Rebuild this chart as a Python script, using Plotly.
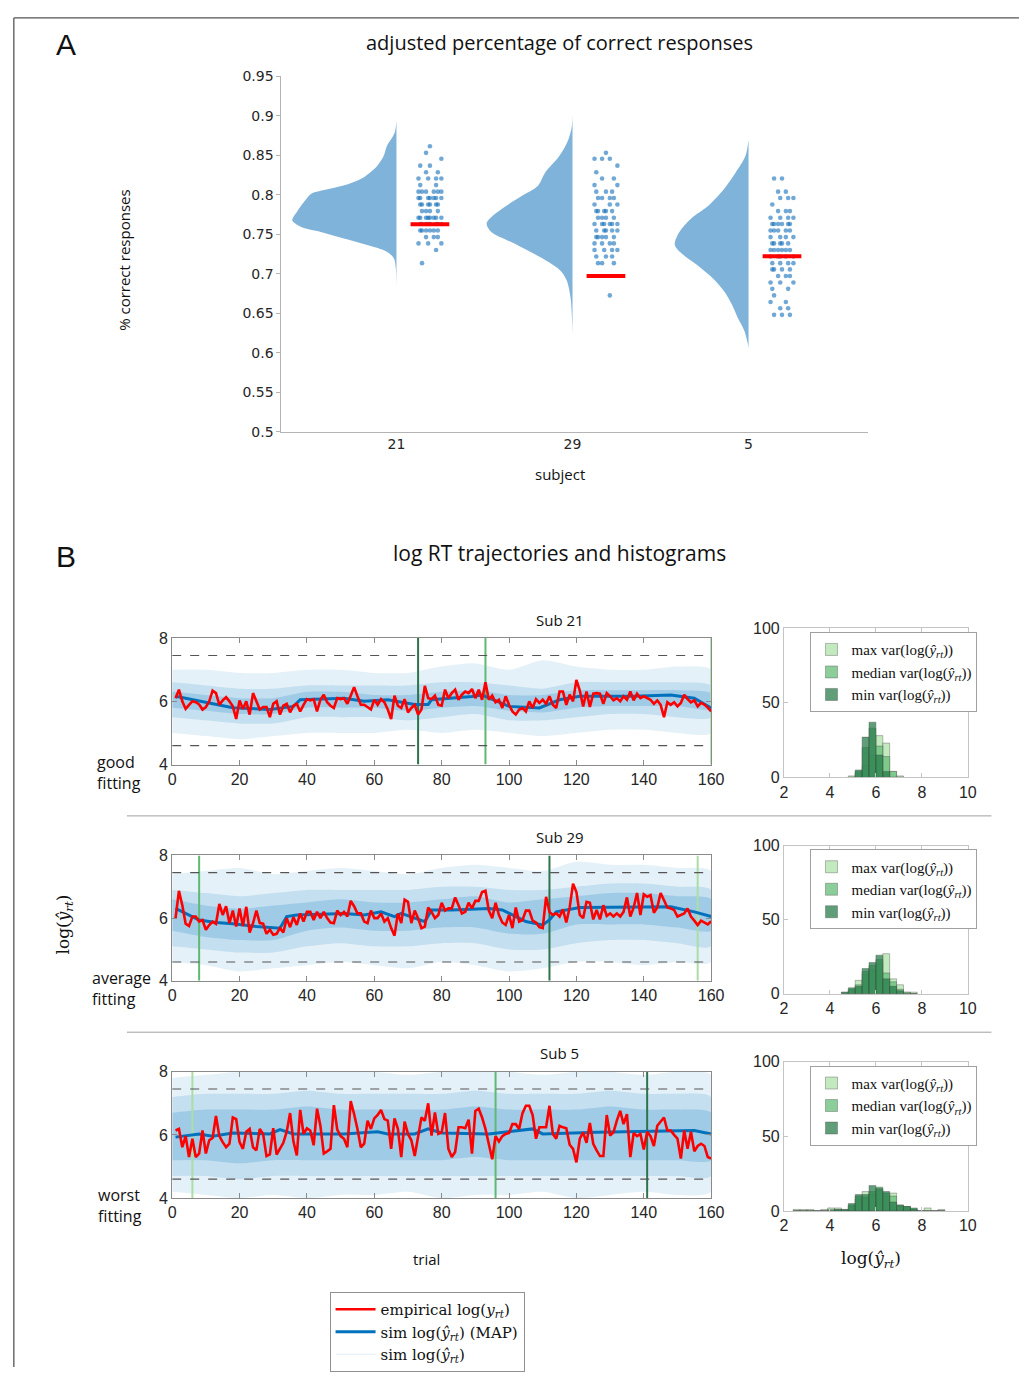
import numpy as np
import plotly.graph_objects as go

W, H = 1032, 1376
def px(x): return x / W
def py(y): return 1 - y / H

# ---------------- Panel A data ----------------
subjects = ["21", "29", "5"]
mean_correct = [0.7625, 0.697, 0.7221]

violin21_y = [0.8946, 0.8779, 0.8613, 0.8488, 0.8363, 0.8217, 0.8133, 0.8071, 0.8009, 0.7925, 0.7863,
              0.7779, 0.7675, 0.7591, 0.7529, 0.7446, 0.7363, 0.7279, 0.7196, 0.7071, 0.6829]
violin21_w = [0, 0.011, 0.055, 0.073, 0.11, 0.188, 0.276, 0.386, 0.486, 0.519, 0.541,
              0.567, 0.592, 0.541, 0.43, 0.298, 0.166, 0.055, 0.015, 0.004, 0]
violin29_y = [0.9029, 0.8863, 0.8696, 0.8488, 0.8279, 0.8113, 0.7988, 0.7863, 0.7738, 0.7633, 0.7529,
              0.7404, 0.7279, 0.7154, 0.7029, 0.6904, 0.6696, 0.6488, 0.6238]
violin29_w = [0, 0.004, 0.024, 0.075, 0.155, 0.196, 0.285, 0.373, 0.45, 0.488, 0.461,
              0.351, 0.241, 0.141, 0.064, 0.031, 0.011, 0.004, 0]
violin5_y = [0.8696, 0.8488, 0.8279, 0.8071, 0.7863, 0.7696, 0.7529, 0.7363, 0.7238, 0.7113, 0.6946,
             0.6779, 0.6613, 0.6446, 0.6279, 0.6113, 0.605]
violin5_w = [0, 0.018, 0.073, 0.139, 0.227, 0.327, 0.393, 0.419, 0.371, 0.294, 0.205,
             0.139, 0.095, 0.062, 0.024, 0.004, 0]

dots21_y = [0.8613, 0.8529, 0.8454, 0.8367, 0.8283, 0.8204, 0.8121, 0.8038, 0.7958, 0.7875, 0.7792,
            0.7708, 0.7629, 0.7546, 0.7463, 0.7383, 0.7300, 0.7133]
dots21_n = [1, 1, 1, 2, 2, 4, 2, 6, 7, 6, 4, 8, 8, 6, 3, 3, 1, 1]
dots29_y = [0.8529, 0.8454, 0.8367, 0.8283, 0.8204, 0.8121, 0.8038, 0.7958, 0.7875, 0.7792, 0.7708,
            0.7629, 0.7546, 0.7463, 0.7383, 0.7300, 0.7217, 0.7133, 0.6725]
dots29_n = [1, 3, 1, 1, 2, 2, 3, 4, 3, 5, 4, 6, 5, 5, 4, 4, 3, 3, 1]
dots5_y = [0.8204, 0.8038, 0.7958, 0.7875, 0.7792, 0.7708, 0.7629, 0.7546, 0.7463, 0.7383, 0.7300,
           0.7217, 0.7133, 0.7054, 0.6971, 0.6888, 0.6808, 0.6725, 0.6642, 0.6563, 0.6479]
dots5_n = [2, 2, 3, 1, 3, 4, 6, 5, 4, 5, 6, 5, 4, 4, 3, 3, 2, 1, 2, 2, 3]

# ---------------- Panel B data ----------------
emp21 = [6.1, 6.37, 6.0, 5.76, 5.89, 6.0, 5.97, 5.9, 5.74, 5.82,
         6.0, 6.34, 6.26, 5.89, 6.03, 6.13, 6.0, 5.84, 5.44, 6.03,
         5.76, 6.0, 5.58, 6.26, 6.0, 5.74, 5.82, 5.82, 5.5, 5.92,
         6.0, 5.58, 5.86, 5.92, 5.65, 5.86, 5.92, 5.68, 5.89, 6.07,
         6.03, 6.07, 5.68, 6.05, 6.21, 5.97, 5.86, 5.79, 6.1, 6.07,
         6.1, 5.92, 6.18, 6.45, 6.16, 5.89, 5.89, 5.82, 5.74, 6.05,
         5.89, 6.07, 5.97, 5.74, 5.44, 6.18, 5.86, 5.79, 6.07, 5.65,
         5.79, 5.89, 5.58, 5.74, 6.49, 6.1, 6.07, 6.18, 5.89, 5.86,
         6.37, 6.1, 6.26, 6.37, 6.05, 6.21, 6.31, 6.26, 6.39, 6.1,
         6.37, 6.05, 6.6, 6.05, 6.18, 5.97, 6.05, 5.79, 6.16, 5.89,
         5.68, 5.58, 5.74, 5.79, 5.68, 6.0, 5.79, 6.07, 5.95, 6.05,
         5.92, 6.16, 5.89, 5.79, 6.31, 6.31, 5.89, 6.21, 6.0, 6.68,
         6.34, 5.84, 6.31, 5.82, 6.24, 6.26, 6.24, 5.92, 6.26, 6.16,
         6.03, 6.1, 6.0, 6.16, 6.05, 6.31, 6.03, 6.24, 6.1, 6.16,
         6.1, 6.05, 5.92, 6.03, 5.89, 5.5, 5.97, 5.89, 5.97, 5.84,
         5.95, 6.21, 6.07, 5.97, 6.03, 5.84, 5.95, 5.9, 5.8, 5.68]
emp29 = [6.0, 6.87, 6.41, 5.82, 5.75, 6.05, 6.05, 5.89, 5.94, 5.63,
         5.78, 5.89, 5.82, 6.45, 6.1, 6.38, 5.84, 6.24, 5.73, 6.31,
         5.75, 6.36, 5.54, 5.84, 6.24, 5.84, 5.82, 5.5, 5.63, 5.47,
         5.5, 5.68, 5.54, 6.0, 5.71, 6.03, 5.78, 6.15, 5.89, 6.2,
         6.2, 5.94, 6.2, 6.0, 6.2, 6.0, 5.86, 5.84, 6.24, 6.1,
         6.2, 6.05, 6.55, 6.38, 6.15, 6.15, 5.89, 5.84, 6.24, 6.0,
         6.0, 6.15, 5.89, 6.0, 5.68, 5.44, 6.15, 5.84, 6.59, 6.52,
         5.84, 6.24, 6.0, 5.68, 5.73, 6.34, 6.2, 6.0, 6.1, 6.49,
         6.24, 6.31, 6.31, 6.66, 6.41, 6.15, 6.2, 6.49, 6.31, 6.55,
         6.55, 6.83, 6.87, 6.24, 6.0, 6.49, 6.1, 5.86, 5.78, 6.1,
         5.68, 6.34, 5.89, 5.94, 6.24, 6.24, 5.92, 5.86, 5.71, 5.68,
         6.68, 6.2, 6.1, 6.15, 6.05, 6.28, 5.86, 6.34, 7.1, 6.83,
         6.1, 6.0, 6.52, 6.49, 5.96, 6.26, 5.96, 6.41, 6.07, 6.15,
         6.05, 6.15, 6.05, 6.2, 6.66, 6.05, 6.34, 6.8, 6.1, 6.76,
         6.68, 6.73, 6.17, 6.34, 6.8, 6.55, 6.34, 6.31, 6.26, 6.05,
         6.1, 6.15, 6.31, 6.05, 5.92, 5.78, 5.92, 5.85, 5.8, 5.9]
emp5 = [6.14, 6.19, 5.61, 5.96, 5.3, 5.88, 5.3, 5.41, 6.14, 5.41,
        5.83, 5.9, 6.6, 5.96, 5.77, 5.61, 5.72, 6.55, 6.5, 5.77,
        5.56, 6.1, 6.19, 5.61, 5.51, 6.19, 6.03, 5.33, 5.38, 6.21,
        5.38, 5.56, 5.75, 6.1, 6.69, 5.79, 5.35, 6.79, 6.03, 6.21,
        6.14, 5.67, 6.83, 6.29, 5.41, 5.48, 5.56, 6.94, 6.17, 5.96,
        5.88, 5.61, 7.07, 6.66, 6.19, 5.61, 5.72, 6.45, 6.19, 6.52,
        6.63, 6.79, 6.5, 6.45, 5.56, 6.52, 6.19, 5.3, 6.42, 6.03,
        5.83, 5.33, 5.88, 6.55, 6.45, 7.0, 5.98, 6.71, 6.03, 6.08,
        6.69, 5.56, 5.3, 5.46, 6.24, 6.24, 6.21, 6.48, 5.41, 6.76,
        6.83, 6.55, 6.19, 5.72, 5.23, 5.96, 5.79, 5.96, 6.03, 6.06,
        6.34, 6.34, 6.19, 6.69, 6.92, 6.92, 6.63, 5.88, 6.24, 6.24,
        6.24, 6.92, 6.03, 5.88, 6.29, 6.24, 6.21, 5.69, 5.56, 5.13,
        5.88, 6.08, 5.75, 6.38, 5.72, 5.51, 5.33, 5.33, 6.63, 5.98,
        6.08, 6.45, 6.76, 6.34, 6.66, 5.3, 6.06, 5.96, 6.03, 5.54,
        6.1, 5.96, 5.65, 6.29, 6.42, 6.55, 6.14, 6.14, 6.0, 5.88,
        5.25, 6.14, 5.56, 6.1, 5.48, 5.65, 5.72, 5.65, 5.3, 5.25]

map21_t = [1, 10, 18, 29, 36, 38, 51, 57, 64, 72, 76, 77, 89, 92, 100, 109, 115, 121, 137, 148, 155, 160]
map21_v = [6.16, 5.97, 5.8, 5.74, 5.84, 6.05, 6.1, 6.0, 6.05, 5.9, 5.9, 6.05, 6.15, 6.2, 5.84, 5.79, 6.05, 6.16, 6.16, 6.2, 6.1, 5.79]
map29_t = [1, 8, 13, 18, 25, 32, 34, 37, 51, 57, 62, 66, 68, 75, 77, 83, 94, 98, 105, 110, 112, 114, 121, 137, 148, 155, 160]
map29_v = [6.31, 5.94, 5.86, 5.82, 5.73, 5.68, 6.05, 6.1, 6.15, 6.1, 6.2, 6.05, 6.15, 5.89, 6.26, 6.26, 6.31, 6.26, 5.89, 5.78, 5.94, 6.2, 6.34, 6.36, 6.36, 6.2, 6.05]
map5_t = [1, 5, 8, 12, 18, 29, 32, 36, 51, 61, 64, 72, 76, 80, 94, 107, 110, 126, 137, 155, 160]
map5_v = [5.93, 5.98, 6.03, 5.96, 6.06, 6.03, 6.17, 6.03, 6.03, 6.1, 6.03, 6.03, 6.19, 6.06, 6.03, 6.19, 6.03, 6.08, 6.1, 6.14, 6.03]

band_t = [0, 10, 20, 30, 40, 50, 60, 70, 80, 90, 100, 110, 120, 130, 140, 150, 160]
sim21_outer_hi = [7.0, 7.0, 6.9, 6.9, 7.0, 7.0, 6.9, 6.9, 7.1, 7.2, 7.0, 7.3, 7.1, 7.0, 7.0, 7.1, 7.0]
sim21_outer_lo = [5.0, 4.9, 4.8, 4.9, 5.0, 5.0, 5.0, 5.1, 5.0, 5.1, 5.0, 4.9, 5.0, 5.1, 5.1, 5.0, 5.0]
sim21_mid_hi = [6.6, 6.5, 6.4, 6.4, 6.5, 6.5, 6.5, 6.5, 6.6, 6.6, 6.5, 6.4, 6.6, 6.6, 6.6, 6.6, 6.5]
sim21_mid_lo = [5.5, 5.4, 5.3, 5.3, 5.5, 5.5, 5.5, 5.4, 5.5, 5.6, 5.4, 5.4, 5.5, 5.6, 5.6, 5.5, 5.5]
sim21_in_hi = [6.3, 6.2, 6.1, 6.1, 6.3, 6.3, 6.2, 6.2, 6.3, 6.35, 6.2, 6.2, 6.35, 6.35, 6.35, 6.35, 6.25]
sim21_in_lo = [5.8, 5.7, 5.6, 5.6, 5.8, 5.8, 5.8, 5.7, 5.8, 5.85, 5.7, 5.65, 5.8, 5.85, 5.85, 5.85, 5.75]

sim29_outer_hi = [7.4, 7.5, 7.6, 7.4, 7.5, 7.6, 7.5, 7.4, 7.6, 7.7, 7.6, 7.5, 7.8, 7.7, 7.7, 7.6, 7.5]
sim29_outer_lo = [4.6, 4.5, 4.3, 4.4, 4.5, 4.6, 4.5, 4.4, 4.6, 4.5, 4.3, 4.4, 4.6, 4.6, 4.5, 4.6, 4.6]
sim29_mid_hi = [6.9, 6.8, 6.7, 6.8, 6.9, 6.9, 6.9, 6.9, 7.0, 7.0, 6.9, 6.9, 7.0, 7.1, 7.1, 7.0, 6.9]
sim29_mid_lo = [5.1, 5.0, 4.9, 4.9, 5.1, 5.2, 5.1, 5.1, 5.2, 5.2, 5.0, 5.0, 5.2, 5.3, 5.3, 5.2, 5.1]
sim29_in_hi = [6.6, 6.4, 6.3, 6.4, 6.5, 6.6, 6.5, 6.5, 6.6, 6.7, 6.5, 6.6, 6.7, 6.8, 6.8, 6.7, 6.6]
sim29_in_lo = [5.6, 5.4, 5.3, 5.3, 5.6, 5.7, 5.6, 5.6, 5.7, 5.7, 5.5, 5.5, 5.8, 5.8, 5.8, 5.7, 5.6]

sim5_outer_hi = [7.8, 7.9, 8.0, 8.0, 8.0, 8.0, 8.0, 7.9, 8.0, 8.0, 8.0, 7.9, 8.0, 8.0, 7.9, 8.0, 7.9]
sim5_outer_lo = [4.2, 4.1, 4.0, 4.1, 4.0, 4.1, 4.1, 4.2, 4.0, 4.1, 4.1, 4.2, 4.0, 4.1, 4.2, 4.1, 4.2]
sim5_mid_hi = [7.2, 7.3, 7.3, 7.3, 7.4, 7.3, 7.3, 7.3, 7.3, 7.4, 7.3, 7.3, 7.3, 7.4, 7.3, 7.3, 7.2]
sim5_mid_lo = [4.7, 4.7, 4.6, 4.7, 4.7, 4.7, 4.7, 4.7, 4.7, 4.7, 4.7, 4.7, 4.7, 4.7, 4.7, 4.7, 4.7]
sim5_in_hi = [6.7, 6.8, 6.8, 6.8, 6.9, 6.8, 6.8, 6.8, 6.8, 6.9, 6.8, 6.8, 6.8, 6.9, 6.8, 6.8, 6.7]
sim5_in_lo = [5.2, 5.2, 5.1, 5.2, 5.2, 5.2, 5.2, 5.2, 5.2, 5.3, 5.2, 5.2, 5.2, 5.2, 5.2, 5.2, 5.2]

ref_hi, ref_lo = 7.45, 4.6
# trial of max / median / min variance trajectories
vline21 = {"max": 160, "median": 93, "min": 73}
vline29 = {"max": 156, "median": 8, "min": 112}
vline5 = {"max": 6, "median": 96, "min": 141}

bin_w = 0.3
hist21_start = 4.8
hist21_max = [1, 3, 8, 15, 28, 23, 4, 1]
hist21_median = [0, 4, 20, 33, 21, 14, 4, 0]
hist21_min = [0, 5, 27, 37, 15, 4, 0, 0]
hist29_start = 4.5
hist29_max = [0, 2, 9, 13, 16, 20, 27, 10, 6, 1, 1]
hist29_median = [1, 3, 6, 15, 19, 23, 14, 8, 3, 1, 0]
hist29_min = [1, 4, 5, 17, 21, 26, 10, 5, 2, 0, 0]
hist5_start = 2.4
hist5_max = [1, 1, 1, 0, 1, 2, 2, 0, 3, 8, 13, 11, 14, 10, 12, 4, 3, 1, 0, 2, 0, 1]
hist5_median = [0, 0, 0, 0, 0, 1, 1, 1, 4, 10, 9, 13, 16, 12, 10, 3, 3, 1, 0, 0, 0, 0]
hist5_min = [0, 0, 0, 0, 0, 0, 1, 1, 5, 11, 11, 17, 15, 13, 6, 4, 3, 2, 0, 0, 0, 0]

# ---------------- styling ----------------
SANS = "Open Sans"
SERIF = "DejaVu Serif"
SERIF2 = "Liberation Serif"
TICKC = "#262626"
VIOLIN = "rgb(128,179,217)"
DOT = "rgba(20,110,185,0.6)"
BLUE = "rgb(0,114,189)"
RED = "rgb(255,0,0)"
GREEN = {"max": "rgb(170,222,165)", "median": "rgb(95,185,115)", "min": "rgb(45,115,75)"}
HISTC = {"max": "rgba(175,225,170,0.75)", "median": "rgba(100,190,120,0.75)", "min": "rgba(35,120,70,0.72)"}
YHAT = "log(<i>ŷ</i><sub><i>rt</i></sub>)"

fig = go.Figure()

# ---------------- Panel A ----------------
violins = [(violin21_y, violin21_w), (violin29_y, violin29_w), (violin5_y, violin5_w)]
dots = [(dots21_y, dots21_n), (dots29_y, dots29_n), (dots5_y, dots5_n)]
jit = [0.0, -0.045, 0.045, -0.022, 0.022, -0.065, 0.065, -0.01, 0.035, -0.055]
for i, ((vy, vw), (dy, dn)) in enumerate(zip(violins, dots)):
    c = i + 1
    xs = [c - w for w in vw]
    fig.add_trace(go.Scatter(x=xs, y=list(vy), fill="toself", fillcolor=VIOLIN, mode="lines",
                             line=dict(width=0, color=VIOLIN, shape="spline", smoothing=0.9),
                             showlegend=False, hoverinfo="skip", xaxis="x", yaxis="y"))
    dx, dyy = [], []
    for r, (yv, n) in enumerate(zip(dy, dn)):
        for k in range(n):
            dx.append(c + 0.19 + jit[(k + 3 * r) % len(jit)])
            dyy.append(yv)
    fig.add_trace(go.Scatter(x=dx, y=dyy, mode="markers", marker=dict(size=4.6, color=DOT),
                             showlegend=False, xaxis="x", yaxis="y"))
    fig.add_trace(go.Scatter(x=[c + 0.08, c + 0.30], y=[mean_correct[i]] * 2, mode="lines",
                             line=dict(color=RED, width=4), showlegend=False, xaxis="x", yaxis="y"))

# ---------------- Panel B ----------------
rows = [
    dict(emp=emp21, mt=map21_t, mv=map21_v,
         bands=[(sim21_outer_hi, sim21_outer_lo), (sim21_mid_hi, sim21_mid_lo), (sim21_in_hi, sim21_in_lo)],
         vl=vline21, hs=hist21_start, hist=[hist21_max, hist21_median, hist21_min]),
    dict(emp=emp29, mt=map29_t, mv=map29_v,
         bands=[(sim29_outer_hi, sim29_outer_lo), (sim29_mid_hi, sim29_mid_lo), (sim29_in_hi, sim29_in_lo)],
         vl=vline29, hs=hist29_start, hist=[hist29_max, hist29_median, hist29_min]),
    dict(emp=emp5, mt=map5_t, mv=map5_v,
         bands=[(sim5_outer_hi, sim5_outer_lo), (sim5_mid_hi, sim5_mid_lo), (sim5_in_hi, sim5_in_lo)],
         vl=vline5, hs=hist5_start, hist=[hist5_max, hist5_median, hist5_min]),
]
alphas = [0.10, 0.14, 0.18]
hist_names = ["max var(" + YHAT + ")", "median var(" + YHAT + ")", "min var(" + YHAT + ")"]
hist_keys = ["max", "median", "min"]

for r, row in enumerate(rows):
    xa = "x%d" % (2 + 2 * r)
    ya = "y%d" % (2 + 2 * r)
    hx = "x%d" % (3 + 2 * r)
    hy = "y%d" % (3 + 2 * r)
    for (hi, lo), a in zip(row["bands"], alphas):
        fig.add_trace(go.Scatter(x=band_t + band_t[::-1], y=hi + lo[::-1], fill="toself",
                                 fillcolor="rgba(0,114,189,%.2f)" % a, mode="lines",
                                 line=dict(width=0, color="rgba(0,114,189,0)", shape="spline", smoothing=0.7),
                                 showlegend=False, hoverinfo="skip", xaxis=xa, yaxis=ya))
    for key in ["max", "median", "min"]:
        t = row["vl"][key]
        fig.add_trace(go.Scatter(x=[t, t], y=[4, 8], mode="lines", line=dict(color=GREEN[key], width=2),
                                 showlegend=False, xaxis=xa, yaxis=ya))
    fig.add_trace(go.Scatter(x=row["mt"], y=row["mv"], mode="lines", line=dict(color=BLUE, width=3),
                             name="sim " + YHAT + " (MAP)", showlegend=(r == 0), legend="legend",
                             legendrank=2, xaxis=xa, yaxis=ya))
    trials = np.arange(1, len(row["emp"]) + 1)
    fig.add_trace(go.Scatter(x=trials, y=row["emp"], mode="lines", line=dict(color=RED, width=2.6),
                             name="empirical log(<i>y</i><sub><i>rt</i></sub>)", showlegend=(r == 0),
                             legend="legend", legendrank=1, xaxis=xa, yaxis=ya))
    # histograms
    lg = "legend%d" % (2 + r)
    for counts, nm, key in zip(row["hist"], hist_names, hist_keys):
        centers = [row["hs"] + bin_w * (k + 0.5) for k in range(len(counts))]
        fig.add_trace(go.Bar(x=centers, y=counts, width=bin_w, name=nm, legend=lg,
                             marker=dict(color=HISTC[key], line=dict(color="rgba(70,70,70,0.45)", width=0.8)),
                             xaxis=hx, yaxis=hy))

# legend-only trace for the faint simulated trajectories
fig.add_trace(go.Scatter(x=[None], y=[None], mode="lines", line=dict(color="rgba(0,114,189,0.12)", width=1),
                         name="sim " + YHAT, legend="legend", legendrank=3, xaxis="x2", yaxis="y2"))

# ---------------- layout ----------------
layout = dict(
    width=W, height=H, margin=dict(l=0, r=0, t=0, b=0),
    paper_bgcolor="white", plot_bgcolor="rgba(0,0,0,0)", barmode="overlay",
    font=dict(family=SANS, color=TICKC),
    xaxis=dict(domain=[px(282), px(878)], anchor="y", range=[0.346, 3.676], tickvals=[1, 2, 3],
               ticktext=subjects, showline=True, linecolor="#b4b4b4", ticks="", showgrid=False,
               zeroline=False, tickfont=dict(family="DejaVu Sans", size=14, color=TICKC)),
    yaxis=dict(domain=[py(429), py(69)], anchor="x", range=[0.5, 0.95],
               tickvals=[0.5, 0.55, 0.6, 0.65, 0.7, 0.75, 0.8, 0.85, 0.9, 0.95],
               ticktext=["0.5", "0.55", "0.6", "0.65", "0.7", "0.75", "0.8", "0.85", "0.9", "0.95"],
               showline=True, linecolor="#b4b4b4", ticks="outside", ticklen=4, tickcolor="#b4b4b4",
               showgrid=False, zeroline=False, tickfont=dict(family="DejaVu Sans", size=14, color=TICKC)),
)
line_y = [(766, 638), (985, 858), (1205, 1077)]
hist_y = [(779, 628), (998, 848), (1218, 1067)]
for r in range(3):
    n1, n2 = 2 + 2 * r, 3 + 2 * r
    layout["xaxis%d" % n1] = dict(domain=[px(171), px(719)], anchor="y%d" % n1, range=[0, 160],
                                  tickvals=list(range(0, 161, 20)), showline=True, mirror="ticks",
                                  linecolor="#8a8a8a", ticks="inside", ticklen=5, tickcolor="#8a8a8a",
                                  showgrid=False, zeroline=False,
                                  tickfont=dict(family="Liberation Sans", size=16, color=TICKC))
    layout["yaxis%d" % n1] = dict(domain=[py(line_y[r][0]), py(line_y[r][1])], anchor="x%d" % n1,
                                  range=[4, 8], tickvals=[4, 6, 8], showline=True, mirror="ticks",
                                  linecolor="#8a8a8a", ticks="inside", ticklen=5, tickcolor="#8a8a8a",
                                  showgrid=False, zeroline=False,
                                  tickfont=dict(family="Liberation Sans", size=16, color=TICKC))
    layout["xaxis%d" % n2] = dict(domain=[px(793), px(980)], anchor="y%d" % n2, range=[2, 10],
                                  tickvals=[2, 4, 6, 8, 10], showline=True, mirror="ticks",
                                  linecolor="#c4c4c4", ticks="inside", ticklen=4, tickcolor="#c4c4c4",
                                  showgrid=False, zeroline=False,
                                  tickfont=dict(family="Liberation Sans", size=16, color=TICKC))
    layout["yaxis%d" % n2] = dict(domain=[py(hist_y[r][0]), py(hist_y[r][1])], anchor="x%d" % n2,
                                  range=[0, 100], tickvals=[0, 50, 100], showline=True, mirror="ticks",
                                  linecolor="#c4c4c4", ticks="inside", ticklen=4, tickcolor="#c4c4c4",
                                  showgrid=False, zeroline=False,
                                  tickfont=dict(family="Liberation Sans", size=16, color=TICKC))
    layout["legend%d" % (2 + r)] = dict(x=px(820), y=py(hist_y[r][1] + 4), xanchor="left", yanchor="top",
                                        bgcolor="white", bordercolor="#a0a0a0", borderwidth=1,
                                        font=dict(family=SERIF2, size=15, color="#111"),
                                        tracegroupgap=0, traceorder="normal", itemclick=False)
layout["legend"] = dict(x=px(331), y=py(1300), xanchor="left", yanchor="top", bgcolor="white",
                        bordercolor="#909090", borderwidth=1, font=dict(family=SERIF, size=15, color="#111"),
                        itemwidth=40, tracegroupgap=0, traceorder="normal")
fig.update_layout(**layout)


def ann(x, y, text, size, family=SANS, angle=0, xanchor="center", align="center"):
    fig.add_annotation(x=px(x), y=py(y), xref="paper", yref="paper", text=text, showarrow=False,
                       font=dict(family=family, size=size, color="#111"), textangle=angle,
                       xanchor=xanchor, yanchor="middle", align=align)


ann(63, 37, "A", 30, "Liberation Sans")
ann(63, 555, "B", 30, "Liberation Sans")
ann(565, 35, "adjusted percentage of correct responses", 20)
ann(122, 255, "% correct responses", 15, angle=-90)
ann(565, 472, "subject", 15)
ann(565, 552, "log RT trajectories and histograms", 21)
ann(565, 620, "Sub 21", 15)
ann(565, 839, "Sub 29", 15)
ann(565, 1058, "Sub 5", 15)
ann(93, 774, "good<br>fitting", 16, xanchor="left", align="left")
ann(87, 993, "average<br>fitting", 16, xanchor="left", align="left")
ann(94, 1212, "worst<br>fitting", 16, xanchor="left", align="left")
ann(62, 928, YHAT, 17, SERIF, angle=-90)
ann(430, 1267, "trial", 15)
ann(882, 1267, YHAT, 17, SERIF)

shapes = [
    dict(type="line", xref="paper", yref="paper", x0=px(10), x1=1, y0=py(10), y1=py(10),
         line=dict(color="#555", width=1.3)),
    dict(type="line", xref="paper", yref="paper", x0=px(10), x1=px(10), y0=py(10), y1=0,
         line=dict(color="#555", width=1.3)),
    dict(type="line", xref="paper", yref="paper", x0=px(125), x1=px(1004), y0=py(818), y1=py(818),
         line=dict(color="#a0a0a0", width=1)),
    dict(type="line", xref="paper", yref="paper", x0=px(125), x1=px(1004), y0=py(1037), y1=py(1037),
         line=dict(color="#a0a0a0", width=1)),
]
for r in range(3):
    n1 = 2 + 2 * r
    for v in (ref_hi, ref_lo):
        shapes.append(dict(type="line", xref="x%d" % n1, yref="y%d" % n1, x0=0, x1=160, y0=v, y1=v,
                           layer="above", line=dict(color="#555", width=1.1, dash="dash")))
fig.update_layout(shapes=shapes)

fig.write_html("out.html", config={"displayModeBar": False},
               post_script="document.body.style.margin='0px';document.body.style.padding='0px';"
                           "document.documentElement.style.overflow='hidden';")
